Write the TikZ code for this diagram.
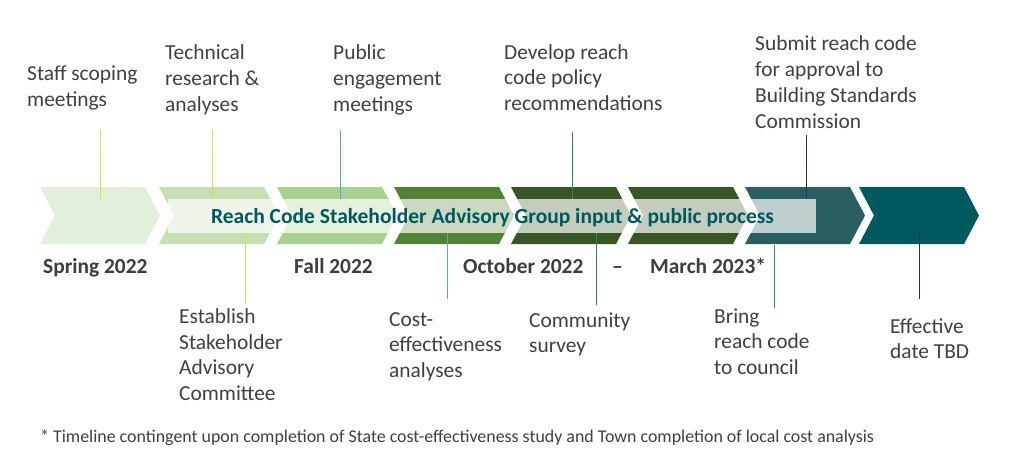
\documentclass[tikz,border=0pt]{standalone}
\usepackage{fontspec}
\setmainfont{Carlito}
\definecolor{chA}{HTML}{E2EFDA}
\definecolor{chB}{HTML}{C6E0B4}
\definecolor{chC}{HTML}{A9D08E}
\definecolor{chD}{HTML}{548235}
\definecolor{chE}{HTML}{375623}
\definecolor{chF}{HTML}{2A5F62}
\definecolor{chG}{HTML}{00595F}
\definecolor{txt}{HTML}{404040}
\definecolor{ylw}{HTML}{E3D94C}
\definecolor{cyn}{HTML}{4BB4C4}
\definecolor{grn}{HTML}{2E8B5A}
\definecolor{nvy}{HTML}{25306A}
\begin{document}
\begin{tikzpicture}[x=1pt,y=-1pt]
\tikzstyle{lbl} = [font=\fontsize{21.4}{25.7}\selectfont,color=txt,align=left,anchor=base west,inner sep=0];
\tikzstyle{when} = [font=\fontsize{21.4}{25.7}\selectfont\bfseries,color=txt!95!black,anchor=base west,inner sep=0];
\tikzstyle{bandtxt} = [font=\fontsize{21.5}{25.7}\selectfont\bfseries,color=chG,anchor=base,inner sep=0];
\tikzstyle{note} = [font=\fontsize{17.9}{21}\selectfont,color=txt,anchor=base west,inner sep=0];
\tikzstyle{tick} = [line width=1];
\useasboundingbox (0,0) rectangle (1014,460);
% chevrons
\foreach \x/\c in {40/chA,159/chB,277/chC,394/chD,511/chE,628/chE,745/chF,859/chG}
  \fill[\c] (\x,187) -- ++(105,0) -- ++(15,28.5) -- ++(-15,28.5) -- ++(-105,0) -- ++(15,-28.5) -- cycle;
% labels above (placed at the last line's baseline)
\node [lbl] (v1) at (27,106.6) {Staff scoping\\meetings};
\node [lbl] (v2) at (165,111.2) {Technical\\research \&\\analyses};
\node [lbl] (v3) at (333,111.2) {Public\\engagement\\meetings};
\node [lbl] (v4) at (504,110.4) {Develop reach\\code policy\\recommendations};
\node [lbl] (v5) at (755,128) {Submit reach code\\for approval to\\Building Standards\\Commission};
% labels below
\node [lbl] (v6) at (179,400.5) {Establish\\Stakeholder\\Advisory\\Committee};
\node [lbl] (v7) at (389,377.5) {Cost-\\effectiveness\\analyses};
\node [lbl] (v8) at (529,352.7) {Community\\survey};
\node [lbl] (v9) at (714,374.5) {Bring\\reach code\\to council};
\node [lbl] (v10) at (890,358.7) {Effective\\date TBD};
% tick ends
\coordinate (a1) at (100,130); \coordinate (b1) at (100,199);
\coordinate (a2) at (212,130); \coordinate (b2) at (212,199);
\coordinate (a3) at (340,130); \coordinate (b3) at (340,199);
\coordinate (a4) at (572,132); \coordinate (b4) at (572,199);
\coordinate (a5) at (806,135); \coordinate (b5) at (806,199);
\coordinate (a6) at (245,303); \coordinate (b6) at (245,233);
\coordinate (a7) at (447,299); \coordinate (b7) at (447,233);
\coordinate (a8) at (596,305); \coordinate (b8) at (596,233);
\coordinate (a9) at (774,308); \coordinate (b9) at (774,245);
\coordinate (a10) at (919,299); \coordinate (b10) at (919,233);
\draw [tick,ylw] (a1) -- (b1);
\draw [tick,ylw] (a2) -- (b2);
\draw [tick,cyn] (a3) -- (b3);
\draw [tick,grn] (a4) -- (b4);
\draw [tick,nvy] (a5) -- (b5);
\draw [tick,ylw] (a6) -- (b6);
\draw [tick,cyn] (a7) -- (b7);
\draw [tick,grn] (a8) -- (b8);
\draw [tick,grn] (a9) -- (b9);
\draw [tick,nvy] (a10) -- (b10);
% band
\fill [white,opacity=0.7] (168,199) rectangle (816,233);
\node [bandtxt] (band) at (492.5,223) {Reach Code Stakeholder Advisory Group input \& public process};
% dates
\node [when] (d1) at (43,273) {Spring 2022};
\node [when] (d2) at (294,273) {Fall 2022};
\node [when] (d3) at (463,273) {October 2022};
\node [when] (d4) at (612,273) {--};
\node [when] (d5) at (650,273) {March 2023*};
\node [note] (fn) at (40,442) {* Timeline contingent upon completion of State cost-effectiveness study and Town completion of local cost analysis};
\end{tikzpicture}
\end{document}
